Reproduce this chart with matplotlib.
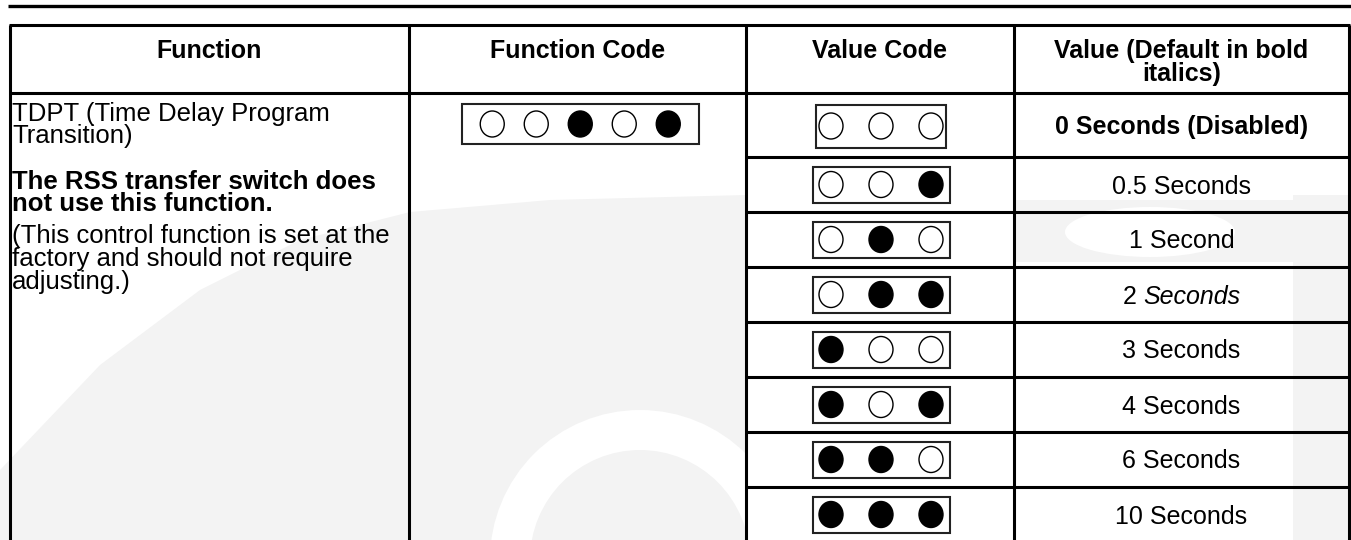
import matplotlib.pyplot as plt
from matplotlib.patches import Rectangle, Ellipse, Polygon, Wedge

# table content
headers = ["Function", "Function Code", "Value Code", "Value (Default in bold\nitalics)"]
function_lines = ["TDPT (Time Delay Program", "Transition)"]
note_bold_lines = ["The RSS transfer switch does", "not use this function."]
note_lines = ["(This control function is set at the", "factory and should not require", "adjusting.)"]
function_code = [0, 0, 1, 0, 1]
value_codes = [[0, 0, 0], [0, 0, 1], [0, 1, 0], [0, 1, 1],
               [1, 0, 0], [1, 0, 1], [1, 1, 0], [1, 1, 1]]
value_labels = ["0 Seconds (Disabled)", "0.5 Seconds", "1 Second", "2 Seconds",
                "3 Seconds", "4 Seconds", "6 Seconds", "10 Seconds"]
default_row = 0
italic_row = 3

plt.rcParams['font.family'] = ['Liberation Sans', 'DejaVu Sans']

fig = plt.figure(figsize=(13.51, 5.40), dpi=100)
ax = fig.add_axes([0, 0, 1, 1])
ax.set_xlim(0, 1351)
ax.set_ylim(540, 0)
ax.axis('off')

# faint watermark behind the table (rough shape only)
wm = '#f3f3f3'
ax.add_patch(Polygon([(0, 470), (100, 365), (200, 290), (300, 240), (410, 212),
                      (550, 200), (746, 195), (746, 540), (0, 540)],
                     closed=True, facecolor=wm, edgecolor='none', zorder=0))
ax.add_patch(Wedge((640, 560), 150, 180, 360, width=40, facecolor='white',
                   edgecolor='none', zorder=0))
ax.add_patch(Rectangle((1293, 195), 56, 345, facecolor=wm, edgecolor='none', zorder=0))
ax.add_patch(Polygon([(1014, 200), (1293, 200), (1293, 262), (1014, 262)],
                     closed=True, facecolor=wm, edgecolor='none', zorder=0))
ax.add_patch(Ellipse((1150, 232), 170, 50, facecolor='white', edgecolor='none', zorder=0))

col_x = [9.5, 408.5, 746, 1014, 1349]
table_top = 24.5
header_bottom = 93
first_row_h = 64
row_h = 55
row_edges = [header_bottom, header_bottom + first_row_h]
for i in range(len(value_labels) - 1):
    row_edges.append(row_edges[-1] + row_h)

lw = 2.2
fs = 18

def hline(y, x0, x1, w=lw):
    ax.plot([x0, x1], [y, y], color='black', lw=w, solid_capstyle='butt', zorder=3)

def vline(x, y0, y1, w=lw):
    ax.plot([x, x], [y0, y1], color='black', lw=w, solid_capstyle='butt', zorder=3)

# page rule and table grid
hline(5.5, 8, 1351, 2.4)
hline(table_top, col_x[0] - 1, col_x[-1] + 1)
hline(header_bottom, col_x[0] - 1, col_x[-1] + 1)
for y in row_edges[1:-1]:
    hline(y, col_x[2], col_x[-1] + 1)
for x in col_x:
    vline(x, table_top, 540)

# header texts
for i, h in enumerate(headers):
    cx = (col_x[i] + col_x[i + 1]) / 2
    for j, line in enumerate(h.split('\n')):
        ax.text(cx, 58 + j * 23, line, ha='center', va='baseline', fontsize=fs,
                fontweight='bold', zorder=4)

# function column
x_left = 12
for j, line in enumerate(function_lines):
    ax.text(x_left, 121 + j * 22, line, ha='left', va='baseline', fontsize=18.5, zorder=4)
for j, line in enumerate(note_bold_lines):
    ax.text(x_left, 189 + j * 22, line, ha='left', va='baseline', fontsize=18.5,
            fontweight='bold', zorder=4)
for j, line in enumerate(note_lines):
    ax.text(x_left, 243 + j * 23, line, ha='left', va='baseline', fontsize=18.5, zorder=4)

def dip_box(cx, cy, bits, spacing, box_w, box_h):
    ax.add_patch(Rectangle((cx - box_w / 2, cy - box_h / 2), box_w, box_h,
                           facecolor='white', edgecolor='#222222', lw=1.5, zorder=4))
    n = len(bits)
    for k, b in enumerate(bits):
        px = cx + (k - (n - 1) / 2) * spacing
        ax.add_patch(Ellipse((px, cy), 24, 26, facecolor='black' if b else 'white',
                             edgecolor='black', lw=1.0, zorder=5))

# function code switch
fc_cx = (col_x[1] + col_x[2]) / 2
row1_cy = (row_edges[0] + row_edges[1]) / 2
dip_box(fc_cx + 3, row1_cy - 1, function_code, 44, 237, 40)

# value code switches and labels
vc_cx = (col_x[2] + col_x[3]) / 2
val_cx = (col_x[3] + col_x[4]) / 2
fig.canvas.draw()
renderer = fig.canvas.get_renderer()
for i, (bits, label) in enumerate(zip(value_codes, value_labels)):
    cy = (row_edges[i] + row_edges[i + 1]) / 2
    if i == 0:
        dip_box(vc_cx + 1, cy + 1, bits, 50, 130, 43)
    else:
        dip_box(vc_cx + 1, cy, bits, 50, 137, 36)
    yb = cy + 9
    if i == default_row:
        ax.text(val_cx, yb, label, ha='center', va='baseline', fontsize=fs,
                fontweight='bold', zorder=4)
    elif i == italic_row:
        num, word = label.split(' ', 1)
        t1 = ax.text(0, yb, num, ha='left', va='baseline', fontsize=fs, zorder=4)
        t2 = ax.text(0, yb, word, ha='left', va='baseline', fontsize=fs,
                     style='italic', zorder=4)
        w1 = t1.get_window_extent(renderer).width
        w2 = t2.get_window_extent(renderer).width
        gap = 0.278 * fs * 100 / 72
        x0 = val_cx - (w1 + gap + w2) / 2
        t1.set_x(x0)
        t2.set_x(x0 + w1 + gap)
    else:
        ax.text(val_cx, yb, label, ha='center', va='baseline', fontsize=fs, zorder=4)

fig.savefig('out.png', dpi=100, facecolor='white')
